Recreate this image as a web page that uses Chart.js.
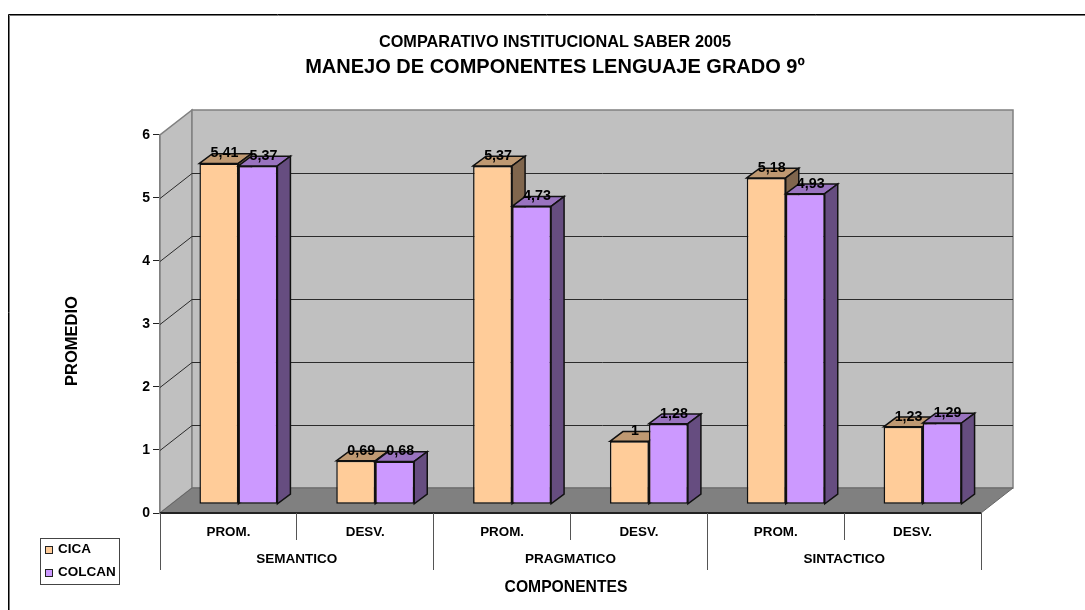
<!DOCTYPE html>
<html>
<head>
<meta charset="utf-8">
<style>body{margin:0;background:#fff}</style>
<script src="https://cdn.jsdelivr.net/npm/chart.js@4"></script>
</head>
<body>
<canvas id="myChart" width="1085" height="610"></canvas>
<script>
const categorias = ["PROM.", "DESV.", "PROM.", "DESV.", "PROM.", "DESV."];
const grupos = ["SEMANTICO", "PRAGMATICO", "SINTACTICO"];
const cica = [5.41, 0.69, 5.37, 1, 5.18, 1.23];
const colcan = [5.37, 0.68, 4.73, 1.28, 4.93, 1.29];

const FONT = '"Liberation Sans", Arial, sans-serif';
// fondo del grafico 3D: desplazamiento de pared y de barras
const WALL = { dx: 32, dy: -25 };
const BAR_FRONT = { dx: 10, dy: -8.7 };
const BAR_DEPTH = { dx: 13, dy: -9.7 };
const caras = [
  { top: "#bf9972", side: "#80664d" },
  { top: "#9973bf", side: "#664d80" },
];

function poly(c, pts, fill, stroke, lw) {
  c.beginPath();
  pts.forEach((p, i) => (i ? c.lineTo(p[0], p[1]) : c.moveTo(p[0], p[1])));
  c.closePath();
  if (fill) { c.fillStyle = fill; c.fill(); }
  if (stroke) { c.strokeStyle = stroke; c.lineWidth = lw || 1; c.stroke(); }
}

function texto(c, s, x, y, size, rot) {
  c.save();
  c.translate(x, y);
  if (rot) c.rotate(rot);
  c.font = "bold " + size + "px " + FONT;
  c.fillStyle = "#000";
  c.textAlign = "center";
  c.textBaseline = "middle";
  c.fillText(s, 0, 0);
  c.restore();
}

const plot3d = {
  id: "plot3d",
  beforeDraw(chart) {
    const c = chart.ctx;
    c.save();
    c.fillStyle = "#fff";
    c.fillRect(0, 0, chart.width, chart.height);
    // marco exterior, abierto a la derecha y abajo
    c.strokeStyle = "#777";
    c.lineWidth = 1;
    c.beginPath();
    c.moveTo(9.5, chart.height);
    c.lineTo(9.5, 15.5);
    c.lineTo(chart.width, 15.5);
    c.stroke();
    c.strokeStyle = "#000";
    c.beginPath();
    c.moveTo(8.5, chart.height);
    c.lineTo(8.5, 14.5);
    c.lineTo(chart.width, 14.5);
    c.stroke();
    c.restore();
  },
  beforeDatasetsDraw(chart) {
    const c = chart.ctx;
    const { left, right, top, bottom } = chart.chartArea;
    const d = WALL;
    c.save();
    poly(c, [[left, top], [left + d.dx, top + d.dy], [left + d.dx, bottom + d.dy], [left, bottom]], "#c0c0c0", "#808080", 1.5);
    poly(c, [[left + d.dx, top + d.dy], [right + d.dx, top + d.dy], [right + d.dx, bottom + d.dy], [left + d.dx, bottom + d.dy]], "#c0c0c0", "#808080", 1.5);
    poly(c, [[left, bottom], [left + d.dx, bottom + d.dy], [right + d.dx, bottom + d.dy], [right, bottom]], "#808080", "#666", 1);
    // lineas de division sobre las paredes
    const y = chart.scales.y;
    c.strokeStyle = "#2b2b2b";
    c.lineWidth = 1;
    y.ticks.forEach((t) => {
      if (t.value === 0 || t.value === 6) return;
      const py = Math.round(y.getPixelForValue(t.value)) + 0.5;
      c.beginPath();
      c.moveTo(left, py);
      c.lineTo(left + d.dx, py + d.dy);
      c.lineTo(right + d.dx, py + d.dy);
      c.stroke();
    });
    c.strokeStyle = "#222";
    c.lineWidth = 2;
    c.beginPath();
    c.moveTo(left, bottom);
    c.lineTo(right, bottom);
    c.stroke();
    c.restore();

    // CICA primero y COLCAN encima: Chart.js pintaria al reves
    [0, 1].forEach((i) => {
      const meta = chart.getDatasetMeta(i);
      const db = BAR_DEPTH;
      c.save();
      c.translate(BAR_FRONT.dx, BAR_FRONT.dy);
      meta.data.forEach((b) => {
        const l = b.x - b.width / 2, r = b.x + b.width / 2;
        poly(c, [[l, b.y], [l + db.dx, b.y + db.dy], [r + db.dx, b.y + db.dy], [r, b.y]], caras[i].top, "#111", 1.5);
        poly(c, [[r, b.y], [r + db.dx, b.y + db.dy], [r + db.dx, b.base + db.dy], [r, b.base]], caras[i].side, "#111", 1.5);
      });
      meta.controller.draw();
      c.restore();
    });
    return false;
  },
  afterDraw(chart) {
    const c = chart.ctx;
    const { left, right, bottom } = chart.chartArea;
    const x = chart.scales.x;
    chart.data.datasets.forEach((ds, i) => {
      chart.getDatasetMeta(i).data.forEach((b, j) => {
        const s = String(ds.data[j]).replace(".", ",");
        texto(c, s, b.x + BAR_FRONT.dx + 5.5, b.y + BAR_FRONT.dy - 10, 14.3);
      });
    });
    c.save();
    // separadores del eje de categorias en dos niveles
    c.strokeStyle = "#555";
    c.lineWidth = 1;
    const paso = (right - left) / categorias.length;
    for (let i = 0; i <= categorias.length; i++) {
      const px = Math.floor(left + paso * i) + 0.5;
      c.beginPath();
      c.moveTo(px, bottom);
      c.lineTo(px, bottom + (i % 2 === 0 ? 57 : 27));
      c.stroke();
    }
    grupos.forEach((g, i) => {
      const px = (x.getPixelForValue(i * 2) + x.getPixelForValue(i * 2 + 1)) / 2;
      texto(c, g, px, 559, 13.5);
    });
    texto(c, "COMPONENTES", 566, 588, 15.7);
    texto(c, "PROMEDIO", 72, 341, 16.5, -Math.PI / 2);
    // leyenda
    c.fillStyle = "#fff";
    c.strokeStyle = "#444";
    c.lineWidth = 1;
    c.fillRect(40, 538, 79, 46);
    c.strokeRect(40.5, 538.5, 79, 46);
    chart.data.datasets.forEach((ds, i) => {
      const cy = 550 + i * 23;
      c.fillStyle = ds.backgroundColor;
      c.strokeStyle = "#222";
      c.fillRect(45, cy - 4, 8, 8);
      c.strokeRect(45.5, cy - 3.5, 7, 7);
      c.font = "bold 13.5px " + FONT;
      c.fillStyle = "#000";
      c.textAlign = "left";
      c.textBaseline = "middle";
      c.fillText(ds.label, 58, cy - 1);
    });
    c.restore();
  },
};

new Chart(document.getElementById("myChart"), {
  type: "bar",
  plugins: [plot3d],
  data: {
    labels: categorias,
    datasets: [
      { label: "CICA", data: cica, backgroundColor: "#ffcc99", borderColor: "#111", borderWidth: 1.5, borderSkipped: false },
      { label: "COLCAN", data: colcan, backgroundColor: "#cc99ff", borderColor: "#111", borderWidth: 1.5, borderSkipped: false },
    ],
  },
  options: {
    responsive: false,
    animation: false,
    clip: false,
    categoryPercentage: 0.57,
    barPercentage: 1,
    layout: { padding: { left: 25, right: 0, top: 0, bottom: 0 } },
    plugins: {
      legend: { display: false },
      tooltip: { enabled: false },
      title: {
        display: true,
        text: "COMPARATIVO INSTITUCIONAL SABER 2005",
        color: "#000",
        font: { family: FONT, size: 16.3, weight: "bold" },
        padding: { top: 32.5, bottom: 0 },
      },
      subtitle: {
        display: true,
        text: "MANEJO DE COMPONENTES LENGUAJE GRADO 9º",
        color: "#000",
        font: { family: FONT, size: 20, weight: "bold" },
        padding: { top: 3, bottom: 55.9 },
      },
    },
    scales: {
      x: {
        grid: { display: false },
        border: { display: false },
        ticks: { color: "#000", padding: 3, maxRotation: 0, autoSkip: false, font: { family: FONT, size: 13.4, weight: "bold" } },
        afterFit(s) { s.height = 97; },
      },
      y: {
        min: 0,
        max: 6,
        grid: { drawOnChartArea: false, tickLength: 7, tickColor: "#222" },
        border: { color: "#808080", width: 1.5 },
        ticks: { stepSize: 1, color: "#000", padding: 3, font: { family: FONT, size: 14, weight: "bold" } },
        afterFit(s) { s.width = 135; },
      },
      // eje vacio: reserva el margen derecho del area de trazado
      margen: {
        position: "right",
        grid: { display: false },
        border: { display: false },
        ticks: { display: false },
        afterFit(s) { s.width = 104; },
      },
    },
  },
});
</script>
</body>
</html>
